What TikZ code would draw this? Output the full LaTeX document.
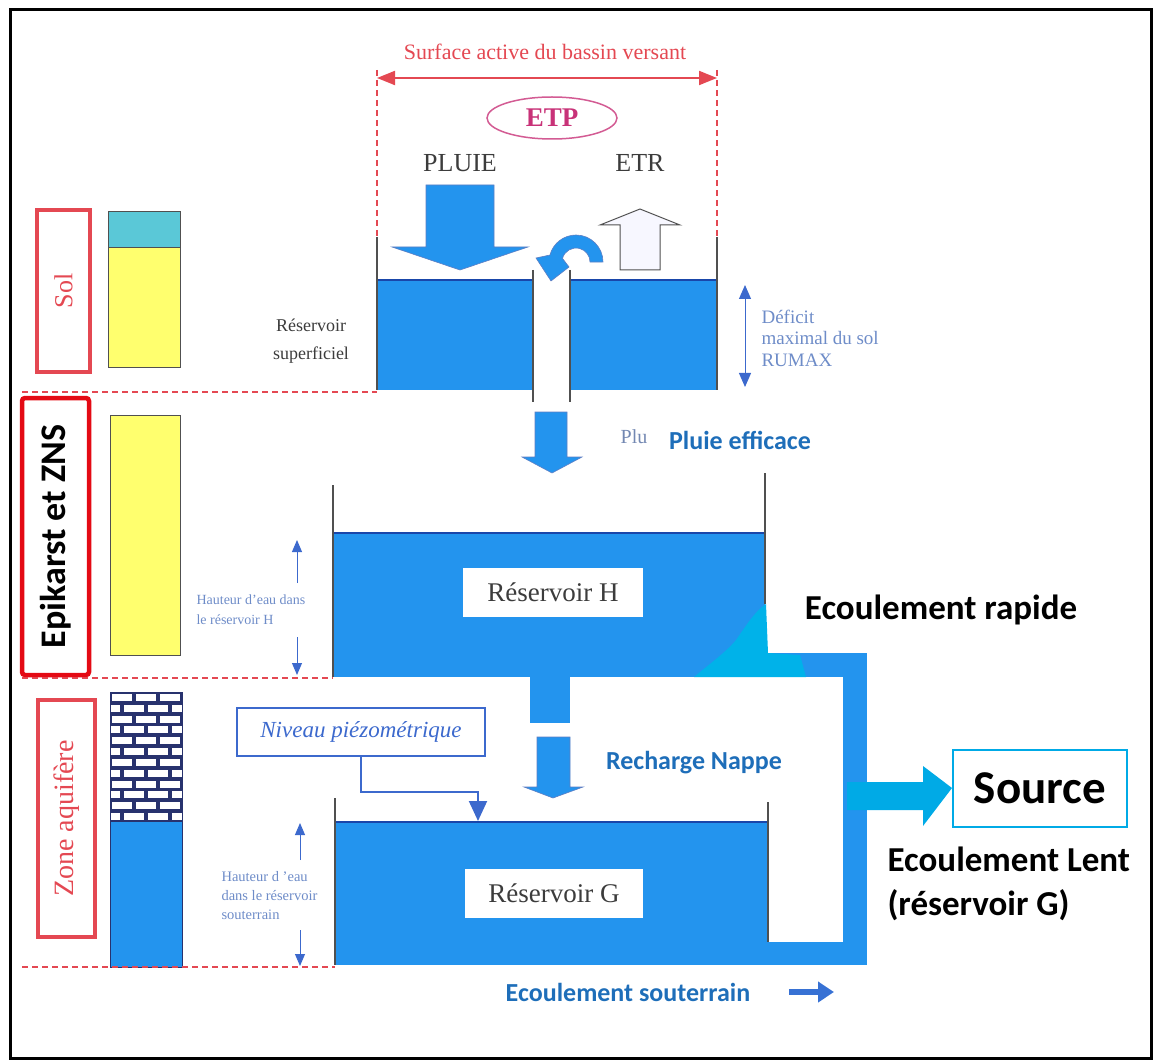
\documentclass[tikz,border=0pt]{standalone}
\usepackage{fontspec}
\setmainfont{Liberation Serif}
\newfontfamily\calibri{Carlito}
\usetikzlibrary{arrows.meta,positioning,shapes.geometric}

\definecolor{eau}{RGB}{35,148,238}
\definecolor{eautop}{RGB}{25,70,170}
\definecolor{gris}{RGB}{80,80,80}
\definecolor{texte}{RGB}{60,60,60}
\definecolor{rouge}{RGB}{228,72,82}
\definecolor{rougevif}{RGB}{228,10,20}
\definecolor{etp}{RGB}{200,50,120}
\definecolor{bleutxt}{RGB}{30,110,185}
\definecolor{bleuclair}{RGB}{110,140,200}
\definecolor{bleucadre}{RGB}{60,105,205}
\definecolor{cyansol}{RGB}{90,200,215}
\definecolor{jaune}{RGB}{255,255,110}
\definecolor{source}{RGB}{0,170,230}
\definecolor{brique}{RGB}{40,50,110}

\newcommand\taille[2]{\fontsize{#1}{#2}\selectfont}

\tikzset{
  eaufill/.style={fill=eau},
  paroi/.style={draw=gris, line width=1.5pt},
  niveau/.style={draw=eautop, line width=1.5pt},
  limite/.style={draw=rouge, dash pattern=on 6pt off 4pt, line width=1.3pt},
  blocarrow/.style={fill=eau, draw=eautop!70, line width=0.6pt},
  zonebox/.style={draw=#1, line width=4.5pt, rotate=90, inner sep=0pt},
  cote/.style={draw=bleuclair, line width=1pt, -{Triangle[width=10pt,length=12pt]}, bleucadre},
  serif/.style={text=texte, font=\taille{#1}{#1}},
  bleugras/.style={text=bleutxt, font=\calibri\bfseries\taille{26}{26}},
  noirgras/.style={text=black, font=\calibri\bfseries\taille{35}{44}}
}

\begin{document}
\begin{tikzpicture}[x=1pt, y=-1pt]
  \useasboundingbox (0,0) rectangle (1159,1064);
  \draw[line width=3pt] (10,10) rectangle (1151,1058);

  % surface active
  \node[text=rouge, font=\taille{22}{22}] (surface) at (545,52) {Surface active du bassin versant};
  \coordinate (surfg) at (377,78);
  \coordinate (surfd) at (717,78);
  \draw[rouge, line width=2pt, {Triangle[width=14pt,length=18pt]}-{Triangle[width=14pt,length=18pt]}] (surfg) -- (surfd);
  \draw[limite] (377,70) -- (377,237);
  \draw[limite] (717,70) -- (717,237);

  \node[ellipse, draw=etp!80, line width=1.5pt, minimum width=130pt, minimum height=42pt,
        text=etp, font=\bfseries\taille{27}{27}] (etp) at (552,118) {ETP};
  \node[serif=26] (pluie) at (460,163) {PLUIE};
  \node[serif=26] (etr) at (640,163) {ETR};

  % fleches pluie / etr
  \filldraw[blocarrow] (426,185) -- (494,185) -- (494,247) -- (528,247) -- (460,270)
    -- (392,247) -- (426,247) -- cycle;
  \filldraw[fill=blue!3, draw=gris, line width=1pt] (620,270) -- (660,270) -- (660,225)
    -- (680,225) -- (640,209) -- (600,225) -- (620,225) -- cycle;
  \filldraw[blocarrow] (603,262) arc[start angle=0, end angle=-165, radius=27]
    -- (536,258) -- (551,281) -- (569,267) -- (562.5,258.4)
    arc[start angle=-165, end angle=0, radius=14] -- cycle;

  % reservoir superficiel
  \fill[eaufill] (377,280) rectangle (533,390);
  \fill[eaufill] (570,280) rectangle (717,390);
  \draw[niveau] (377,280) -- (533,280) (570,280) -- (717,280);
  \draw[paroi] (377,237) -- (377,390);
  \draw[paroi] (717,237) -- (717,390);
  \draw[paroi] (533,270) -- (533,402);
  \draw[paroi] (570,270) -- (570,402);
  \node[serif=18, align=center, font=\taille{18}{28}] (superficiel) at (311,341) {Réservoir\\superficiel};

  \draw[draw=bleuclair, line width=1pt, {Triangle[width=12pt,length=14pt]}-{Triangle[width=12pt,length=14pt]}, bleucadre] (745,285) -- (745,387);
  \node[text=bleuclair, font=\taille{19}{21.5}, align=left, anchor=west] (deficit) at (758,338)
    {Déficit\\maximal du sol\\RUMAX};

  % pluie efficace
  \filldraw[blocarrow] (535,412) -- (567,412) -- (567,457) -- (582,457) -- (552,473)
    -- (522,457) -- (535,457) -- cycle;
  \node[text=bleuclair!70!gray, font=\taille{20}{20}] (plu) at (634,437) {Plu};
  \node[bleugras] (efficace) at (740,440) {Pluie efficace};

  % colonne de gauche
  \node[zonebox=rouge, minimum width=162pt, minimum height=53pt, text=rouge,
        font=\taille{26}{26}] (sol) at (63.5,291) {Sol};
  \fill[cyansol, draw=gris, line width=0.8pt] (108,211) rectangle (180,247);
  \fill[jaune, draw=gris, line width=0.8pt] (108,247) rectangle (180,367);
  \draw[limite] (22,392) -- (377,392);

  \node[zonebox=rougevif, rounded corners=3pt, minimum width=277pt, minimum height=67pt,
        font=\calibri\bfseries\taille{36}{36}] (epikarst) at (55.5,536.5) {Epikarst et ZNS};
  \fill[jaune, draw=gris, line width=0.8pt] (110,415) rectangle (180,655);
  \draw[limite] (22,678) -- (333,678);

  \node[zonebox=rouge, minimum width=237pt, minimum height=57pt, text=rouge,
        font=\taille{28}{28}] (aquifere) at (66.5,818.5) {Zone aquifère};
  \begin{scope}
    \clip (110,692) rectangle (182,822);
    \fill[brique] (110,692) rectangle (182,822);
    \foreach \r in {0,...,11}{
      \foreach \c in {-1,...,3}{
        \fill[white] ({110+\c*24+mod(\r,2)*12+2},{692+\r*10.83+2}) rectangle ++(20,7);
      }
    }
  \end{scope}
  \fill[eaufill] (110,822) rectangle (182,967);
  \draw[brique, line width=1pt] (110,692) rectangle (182,967);
  \draw[limite] (22,967) -- (335,967);

  % reservoir H
  \fill[eaufill] (333,533) rectangle (765,677);
  \fill[eaufill] (765,653) rectangle (867,677);
  \fill[eaufill] (843,653) rectangle (867,965);
  \fill[source!90!cyan] (694,677) .. controls (712,662) and (726,652) .. (736,640)
    .. controls (746,626) and (754,612) .. (766,604) -- (768,653) -- (800,655)
    -- (806,677) -- cycle;
  \draw[niveau] (333,533) -- (765,533);
  \draw[paroi] (333,485) -- (333,677);
  \draw[paroi] (765,473) -- (765,604);
  \node[fill=white, minimum width=180pt, minimum height=49pt, serif=27] (resH) at (553,592) {Réservoir H};
  \node[noirgras] (rapide) at (941,610) {Ecoulement rapide};

  \draw[cote] (297,583) -- (297,540);
  \draw[cote] (297,637) -- (297,675);
  \node[text=bleuclair, font=\taille{14}{20}, align=left, anchor=west] (hauteurH) at (193,610)
    {Hauteur d'eau dans\\le réservoir H};

  % recharge
  \fill[eaufill] (530,677) rectangle (570,723);
  \filldraw[blocarrow] (537,737) -- (570,737) -- (570,787) -- (583,787) -- (553,798)
    -- (524,787) -- (537,787) -- cycle;
  \node[bleugras] (recharge) at (694,763) {Recharge Nappe};

  % reservoir G
  \fill[eaufill] (335,822) rectangle (768,965);
  \fill[eaufill] (768,942) rectangle (867,965);
  \draw[niveau] (335,822) -- (768,822);
  \draw[paroi] (335,798) -- (335,965);
  \draw[paroi] (768,802) -- (768,942);
  \node[fill=white, minimum width=178pt, minimum height=49pt, serif=27] (resG) at (554,893) {Réservoir G};

  \node[draw=bleucadre, line width=2pt, minimum width=248pt, minimum height=48pt,
        text=bleucadre, font=\itshape\taille{23}{23}] (piezo) at (361,732) {Niveau piézométrique};
  \coordinate (coude) at (478,792);
  \coordinate (nappeG) at (478,821);
  \draw[bleucadre, line width=2pt, -{Triangle[width=18pt,length=20pt]}] (piezo.south) |- (coude) -- (nappeG);

  \draw[cote] (300,860) -- (300,823);
  \draw[cote] (300,930) -- (300,966);
  \node[text=bleuclair, font=\taille{14.5}{19}, align=left, anchor=west] (hauteurG) at (218,896)
    {Hauteur d 'eau\\dans le réservoir\\souterrain};

  % source
  \node[draw=source, line width=2pt, minimum width=174pt, minimum height=77pt,
        font=\calibri\bfseries\taille{47}{47}] (source) at (1040,788) {Source};
  \fill[source] (847,782) -- (923,782) -- (923,766) -- (source.west) -- (923,826)
    -- (923,810) -- (847,810) -- cycle;
  \node[noirgras, anchor=west, align=left] (lent) at (884,884) {Ecoulement Lent\\(réservoir G)};

  % ecoulement souterrain
  \node[bleugras] (souterrain) at (628,992) {Ecoulement souterrain};
  \coordinate (soutd) at (834,992);
  \draw[bleucadre!80!eau, line width=6pt, -{Triangle[width=20pt,length=16pt]}] (souterrain.east) ++(35,0) -- (soutd);
\end{tikzpicture}
\end{document}
